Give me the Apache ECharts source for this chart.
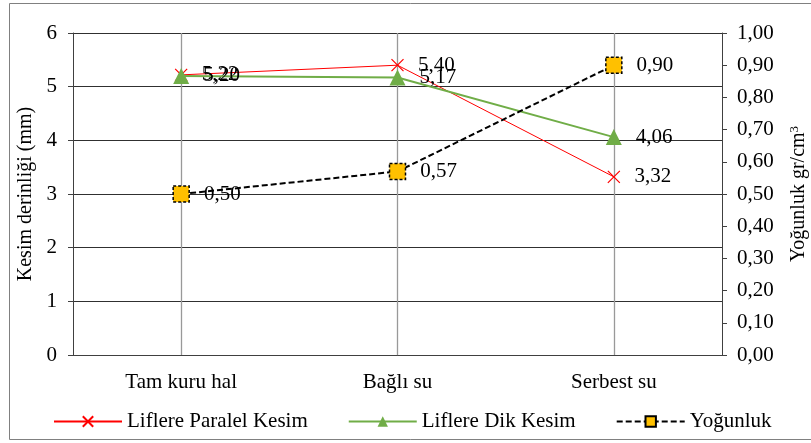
<!DOCTYPE html>
<html>
<head>
<meta charset="utf-8">
<script src="https://cdn.jsdelivr.net/npm/echarts@6/dist/echarts.min.js"></script>
<style>
  html, body { margin: 0; padding: 0; background: #fff; }
  #chart { width: 811px; height: 443px; }
</style>
</head>
<body>
<div id="chart"></div>
<script>
// Categories (moisture condition)
const categories = ['Tam kuru hal', 'Bağlı su', 'Serbest su'];
// Cutting depth, mm
const paralel = [5.22, 5.40, 3.32];
const dik = [5.20, 5.17, 4.06];
// Density, gr/cm3
const yogunluk = [0.50, 0.57, 0.90];

const FONT = 'Liberation Serif';
const fmt = v => v.toFixed(2).replace('.', ',');
const crossPath = 'path://M0,0 L10,10 M10,0 L0,10';

const chart = echarts.init(document.getElementById('chart'), null, { renderer: 'canvas' });

const labelStyle = {
  show: true,
  position: 'right',
  distance: 14,
  color: '#000',
  fontFamily: FONT,
  fontSize: 21,
  formatter: p => fmt(p.value)
};

chart.setOption({
  animation: false,
  backgroundColor: '#fff',
  textStyle: { fontFamily: FONT, color: '#000' },
  graphic: [{
    type: 'rect',
    shape: { x: 9.5, y: 3.5, width: 830, height: 436 },
    style: { fill: 'none', stroke: '#808080', lineWidth: 1 },
    silent: true,
    z: -1
  }],
  grid: { left: 73, right: 89, top: 33, bottom: 88, containLabel: false, outerBoundsMode: 'none' },
  legend: {
    bottom: 6,
    left: 48,
    itemWidth: 68,
    itemHeight: 13,
    itemGap: 40,
    formatter: '{t|{name}}',
    textStyle: {
      fontFamily: FONT, fontSize: 21, color: '#000',
      rich: { t: { fontFamily: FONT, fontSize: 21, color: '#000' } }
    },
    data: ['Liflere Paralel Kesim', 'Liflere Dik Kesim', 'Yoğunluk']
  },
  xAxis: {
    type: 'category',
    data: categories,
    boundaryGap: true,
    axisLine: { lineStyle: { color: '#404040' } },
    axisTick: { show: false },
    axisLabel: { color: '#000', fontFamily: FONT, fontSize: 21, margin: 17 },
    splitLine: { show: false }
  },
  yAxis: [{
    type: 'value',
    min: 0, max: 6, interval: 1,
    name: 'Kesim derinliği (mm)',
    nameLocation: 'middle',
    nameGap: 33,
    nameRotate: 90,
    nameTextStyle: { color: '#000', fontFamily: FONT, fontSize: 20 },
    axisLine: { show: true, lineStyle: { color: '#404040' } },
    axisTick: { show: true, length: 5, lineStyle: { color: '#404040' } },
    axisLabel: { color: '#000', fontFamily: FONT, fontSize: 21, margin: 16 },
    splitLine: { show: true, lineStyle: { color: '#303030', width: 1 } }
  }, {
    type: 'value',
    min: 0, max: 1, interval: 0.1,
    position: 'right',
    name: '{a|Yoğunluk gr/cm}{s|3}',
    nameLocation: 'middle',
    nameGap: 66,
    nameRotate: 90,
    nameTextStyle: {
      rich: {
        a: { color: '#000', fontFamily: FONT, fontSize: 20 },
        s: { color: '#000', fontFamily: FONT, fontSize: 13, verticalAlign: 'top', padding: [0, 0, 9, 0] }
      }
    },
    axisLine: { show: true, lineStyle: { color: '#404040' } },
    axisTick: { show: true, inside: false, length: 5, lineStyle: { color: '#404040' } },
    axisLabel: { color: '#000', fontFamily: FONT, fontSize: 21, margin: 15, formatter: v => fmt(v) },
    splitLine: { show: false }
  }],
  series: [{
    name: 'Liflere Paralel Kesim',
    type: 'line',
    data: paralel,
    symbol: crossPath,
    symbolSize: 12,
    color: '#FF0000',
    lineStyle: { color: '#FF0000', width: 1 },
    itemStyle: { color: '#FF0000', borderColor: '#FF0000', borderWidth: 1.2 },
    label: labelStyle,
    z: 3,
    markLine: {
      silent: true,
      symbol: 'none',
      label: { show: false },
      lineStyle: { color: '#999', type: 'solid', width: 1.3 },
      data: categories.map(c => ({ xAxis: c })),
      z: 1
    }
  }, {
    name: 'Liflere Dik Kesim',
    type: 'line',
    data: dik,
    symbol: 'triangle',
    symbolSize: 16,
    color: '#70AD47',
    lineStyle: { color: '#70AD47', width: 2 },
    itemStyle: { color: '#70AD47' },
    label: labelStyle,
    z: 4
  }, {
    name: 'Yoğunluk',
    type: 'line',
    yAxisIndex: 1,
    data: yogunluk,
    symbol: 'rect',
    symbolSize: 16,
    color: '#FFC000',
    lineStyle: { color: '#000', width: 2, type: [6, 3] },
    itemStyle: { color: '#FFC000', borderColor: '#000', borderWidth: 1.5, borderType: [3, 2] },
    label: labelStyle,
    z: 5
  }]
});
</script>
</body>
</html>
